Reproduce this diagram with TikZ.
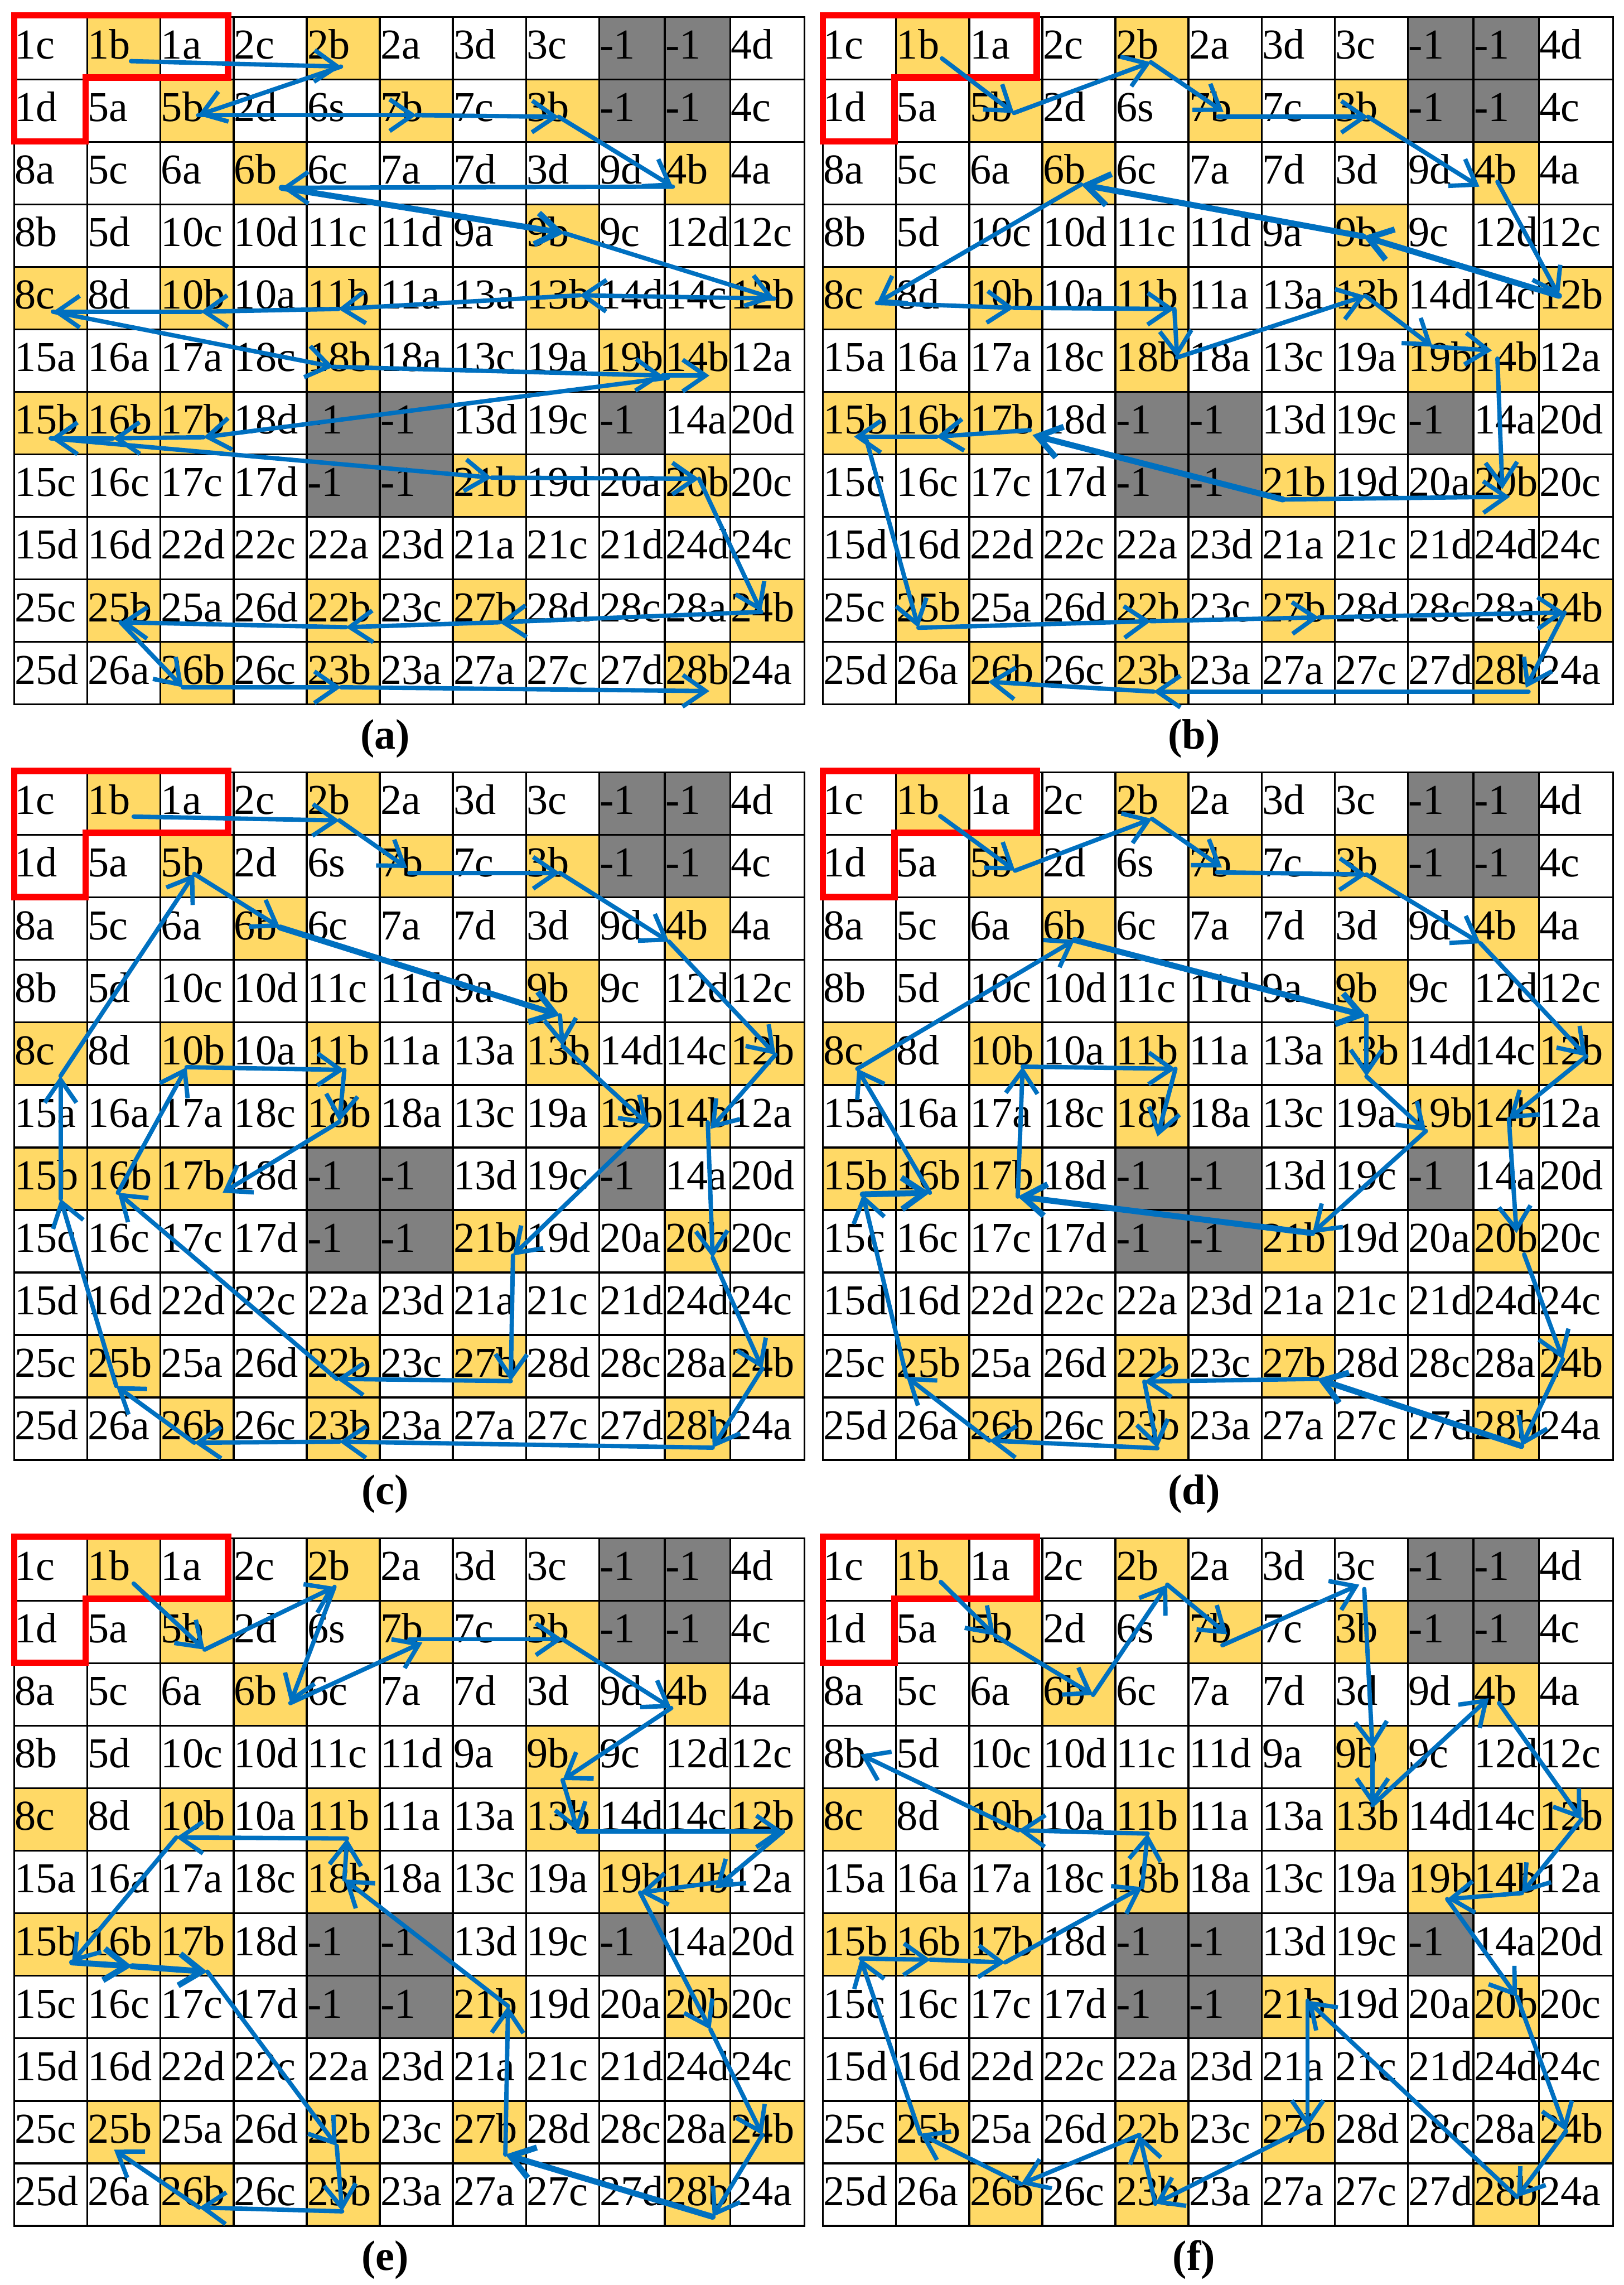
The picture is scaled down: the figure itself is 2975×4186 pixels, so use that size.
\documentclass[tikz,border=0pt]{standalone}
\usepackage{fontspec}
\setmainfont{Liberation Serif}
\usetikzlibrary{arrows.meta}
\definecolor{cellyellow}{RGB}{255,217,102}
\definecolor{cellgray}{RGB}{128,128,128}
\definecolor{arrowblue}{RGB}{0,112,192}
\definecolor{boxred}{RGB}{255,0,0}
\tikzset{
  gridline/.style={draw=black, line width=3.5pt, line cap=rect},
  celltext/.style={anchor=base west, inner sep=0pt, font=\fontsize{78}{78}\selectfont},
  arr/.style={draw=arrowblue, line width=8pt, line cap=round, line join=round, -{Straight Barb[length=42pt,width=58pt]}},
  thk/.style={line width=11pt},
  redbox/.style={draw=boxred, line width=12pt, line join=miter},
  caption/.style={font=\fontsize{78}{78}\selectfont\bfseries, inner sep=0pt},
}
\def\colx{{0,134,268,402,536,670,804,938,1072,1192,1312,1448}}
\def\rowsall{{1c,1b,1a,2c,2b,2a,3d,3c,-1,-1,4d},{1d,5a,5b,2d,6s,7b,7c,3b,-1,-1,4c},{8a,5c,6a,6b,6c,7a,7d,3d,9d,4b,4a},{8b,5d,10c,10d,11c,11d,9a,9b,9c,12d,12c},{8c,8d,10b,10a,11b,11a,13a,13b,14d,14c,12b},{15a,16a,17a,18c,18b,18a,13c,19a,19b,14b,12a},{15b,16b,17b,18d,-1,-1,13d,19c,-1,14a,20d},{15c,16c,17c,17d,-1,-1,21b,19d,20a,20b,20c},{15d,16d,22d,22c,22a,23d,21a,21c,21d,24d,24c},{25c,25b,25a,26d,22b,23c,27b,28d,28c,28a,24b},{25d,26a,26b,26c,23b,23a,27a,27c,27d,28b,24a}}
\newcommand{\drawgrid}[3]{%
\begin{scope}[shift={(#2,#3)}]
  \foreach \rr/\cc in {1/2,1/5,2/3,2/6,2/8,3/4,3/10,4/8,5/1,5/3,5/5,5/8,5/11,6/5,6/9,6/10,7/1,7/2,7/3,8/7,8/10,10/2,10/5,10/7,10/11,11/3,11/5,11/10} {
    \pgfmathsetmacro\xa{\colx[\cc-1]}
    \pgfmathsetmacro\xb{\colx[\cc]}
    \fill[cellyellow] (\xa,{(\rr-1)*114.5}) rectangle (\xb,{\rr*114.5});
  }
  \foreach \rr/\cc in {1/9,1/10,2/9,2/10,7/5,7/6,7/9,8/5,8/6} {
    \pgfmathsetmacro\xa{\colx[\cc-1]}
    \pgfmathsetmacro\xb{\colx[\cc]}
    \fill[cellgray] (\xa,{(\rr-1)*114.5}) rectangle (\xb,{\rr*114.5});
  }
  \foreach \i in {0,...,11} \draw[gridline] (0,{\i*114.5}) -- (1448,{\i*114.5});
  \foreach \xx in {0,134,268,402,536,670,804,938,1072,1192,1312,1448} \draw[gridline] (\xx,0) -- (\xx,1259.5);
  \foreach [count=\rr] \rowlist in \rowsall {
    \foreach [count=\cc] \lab in \rowlist {
      \pgfmathsetmacro\xa{\colx[\cc-1]+1}
      \node[celltext] (#1-\rr-\cc) at (\xa,{(\rr-1)*114.5+77}) {\lab};
    }
  }
  \draw[redbox] (0,-3) -- (392,-3) -- (392,111) -- (131,111) -- (131,228) -- (0,228) -- cycle;
  \node[caption] (cap-#1) at (680,1322) {(#1)};
\end{scope}}
\begin{document}
\begin{tikzpicture}[x=1pt,y=-1pt]
\fill[white] (0,0) rectangle (2975,4186);
\useasboundingbox (0,0) rectangle (2975,4186);
\drawgrid{a}{26}{31}
\drawgrid{b}{1508}{31}
\drawgrid{c}{26}{1415}
\drawgrid{d}{1508}{1415}
\drawgrid{e}{26}{2818}
\drawgrid{f}{1508}{2818}

% ---------- (a)
\begin{scope}[shift={(26,31)}]
\foreach \n/\x/\y in {1b/214/81,2b/599/91,5b/337/180,7b/737/180,3b/998/183,4b/1207/311,6b/490/313,9b/1008/396,12b/1393/516,13b/1036/510,11b/594/535,10b/342/540,8c/71/540,18b/585/641,19b/1188/657,14b/1274/657,14bs/1198/661,17b/347/770,16b/181/772,15b/67/772,21b/875/844,20b/1255/846,24b/1369/1090,27b/889/1109,22b/608/1118,25b/195/1109,26b/309/1228,23b/599/1228,28b/1274/1235}
  \coordinate (a-\n) at (\x,\y);
\end{scope}
\foreach \p/\q in {1b/2b,2b/5b,5b/7b,7b/3b,3b/4b,4b/6b,9b/12b,12b/13b,13b/11b,11b/10b,10b/8c,8c/18b,18b/19b,19b/14b,14bs/17b,17b/16b,16b/15b,15b/21b,21b/20b,20b/24b,24b/27b,27b/22b,22b/25b,25b/26b,26b/23b,23b/28b}
  \draw[arr] (a-\p) -- (a-\q);
\draw[arr,thk] (a-6b) -- (a-9b);

% ---------- (b)
\begin{scope}[shift={(1508,31)}]
\foreach \n/\x/\y in {1b/218/76,5b/350/176,2b/601/83,7b/734/174,7bs/724/183,3b/999/183,4b/1203/311,4bs/1236/302,12b/1349/511,9b/990/402,6b/473/307,8c/99/524,10b/350/533,11b/644/535,18b/649/624,13b/994/511,19b/1117/604,14b/1226/611,14bs/1236/626,20b/1245/865,21b/843/884,20bt/1259/879,17b/384/766,17bs/379/757,16b/208/769,15b/57/769,15bs/80/776,25b/175/1119,22b/601/1107,27b/909/1100,24b/1359/1091,28b/1288/1229,28bs/1293/1236,23b/606/1236,26b/303/1218}
  \coordinate (b-\n) at (\x,\y);
\end{scope}
\foreach \p/\q in {1b/5b,5b/2b,2b/7b,7bs/3b,3b/4b,4bs/12b,6b/8c,8c/10b,10b/11b,11b/18b,18b/13b,13b/19b,19b/14b,14bs/20b,21b/20bt,17bs/16b,16b/15b,15bs/25b,25b/22b,22b/27b,27b/24b,24b/28b,28bs/23b,23b/26b}
  \draw[arr] (b-\p) -- (b-\q);
\foreach \p/\q in {12b/9b,9b/6b,21b/17b}
  \draw[arr,thk] (b-\p) -- (b-\q);

% ---------- (c)
\begin{scope}[shift={(26,1415)}]
\foreach \n/\x/\y in {1b/219/81,2b/596/88,7b/720/175,7bs/724/184,3b/1000/184,4b/1200/310,12b/1395/517,14b/1276/653,14bs/1271/641,20b/1280/889,24b/1371/1092,28b/1280/1237,23b/596/1226,26b/330/1228,25b/187/1124,15b/85/781,8c/85/556,5b/330/186,6b/487/284,9b/1000/445,13b/1005/501,19b/1162/645,21b/914/885,27b/910/1115,22b/591/1111,16b/190/770,10b/316/540,11b/605/545,18b/596/640,17b/382/770}
  \coordinate (c-\n) at (\x,\y);
\end{scope}
\foreach \p/\q in {1b/2b,2b/7b,7bs/3b,3b/4b,4b/12b,12b/14b,14bs/20b,20b/24b,24b/28b,28b/23b,23b/26b,26b/25b,25b/15b,15b/8c,8c/5b,5b/6b,9b/13b,13b/19b,19b/21b,21b/27b,27b/22b,22b/16b,16b/10b,10b/11b,11b/18b,18b/17b}
  \draw[arr] (c-\p) -- (c-\q);
\draw[arr,thk] (c-6b) -- (c-9b);

% ---------- (d)
\begin{scope}[shift={(1508,1415)}]
\foreach \n/\x/\y in {1b/215/80,5b/352/180,2b/603/85,7b/731/174,7bs/722/183,3b/996/187,4b/1205/313,12b/1399/520,14b/1257/635,20b/1271/844,20bs/1285/883,24b/1356/1075,28b/1280/1234,27b/906/1111,22b/589/1116,23b/613/1238,26b/305/1224,25b/153/1107,15b/73/773,16b/196/770,8c/63/543,6b/461/307,9b/996/446,13b/996/557,19b/1105/657,21b/897/844,17b/357/777,10b/366/539,11b/646/543,18b/613/667}
  \coordinate (d-\n) at (\x,\y);
\end{scope}
\foreach \p/\q in {1b/5b,5b/2b,2b/7b,7bs/3b,3b/4b,4b/12b,12b/14b,14b/20b,20bs/24b,24b/28b,27b/22b,22b/23b,23b/26b,26b/25b,25b/15b,16b/8c,8c/6b,9b/13b,13b/19b,19b/21b,17b/10b,10b/11b,11b/18b}
  \draw[arr] (d-\p) -- (d-\q);
\foreach \p/\q in {28b/27b,15b/16b,6b/9b,21b/17b}
  \draw[arr,thk] (d-\p) -- (d-\q);

% ---------- (e)
\begin{scope}[shift={(26,2818)}]
\foreach \n/\x/\y in {1b/219/83,5b/349/204,2b/587/89,6b/506/302,7b/748/191,7bs/724/185,3b/1005/185,4b/1204/311,9b/1005/443,13b/1033/537,12b/1409/537,14b/1285/641,14bs/1314/627,19b/1147/649,20b/1276/900,24b/1371/1093,28b/1280/1243,27b/900/1129,21b/905/857,18b/605/625,11b/610/550,10b/297/548,15b/106/777,16b/216/784,17b/354/794,22b/591/1113,23b/601/1233,26b/339/1226,25b/183/1120}
  \coordinate (e-\n) at (\x,\y);
\end{scope}
\foreach \p/\q in {1b/5b,5b/2b,2b/6b,6b/7b,7bs/3b,3b/4b,4b/9b,9b/13b,13b/12b,12b/14b,14bs/19b,19b/20b,20b/24b,24b/28b,27b/21b,21b/18b,18b/11b,11b/10b,10b/15b,17b/22b,22b/23b,23b/26b,26b/25b}
  \draw[arr] (e-\p) -- (e-\q);
\foreach \p/\q in {28b/27b,15b/16b,16b/17b}
  \draw[arr,thk] (e-\p) -- (e-\q);

% ---------- (f)
\begin{scope}[shift={(1508,2818)}]
\foreach \n/\x/\y in {1b/216/80,5b/315/178,6b/495/287,2b/631/85,7b/741/176,7bs/732/196,3c/983/85,3cs/992/93,9b/1007/385,13b/1007/489,4b/1220/293,4bs/1239/302,12b/1390/515,14b/1281/650,19b/1144/661,20b/1272/840,24b/1362/1086,28b/1272/1207,21b/888/847,27b/888/1079,23b/609/1219,22b/580/1093,26b/363/1183,25b/178/1091,15b/69/770,16b/197/772,17b/334/777,18b/585/639,11b/595/541,10b/358/535,8b/69/396}
  \coordinate (f-\n) at (\x,\y);
\end{scope}
\foreach \p/\q in {1b/5b,5b/6b,6b/2b,2b/7b,7bs/3c,3cs/9b,9b/13b,13b/4b,4bs/12b,12b/14b,14b/19b,19b/20b,20b/24b,24b/28b,28b/21b,21b/27b,27b/23b,23b/22b,22b/26b,26b/25b,25b/15b,15b/16b,16b/17b,17b/18b,18b/11b,11b/10b,10b/8b}
  \draw[arr] (f-\p) -- (f-\q);
\end{tikzpicture}
\end{document}
